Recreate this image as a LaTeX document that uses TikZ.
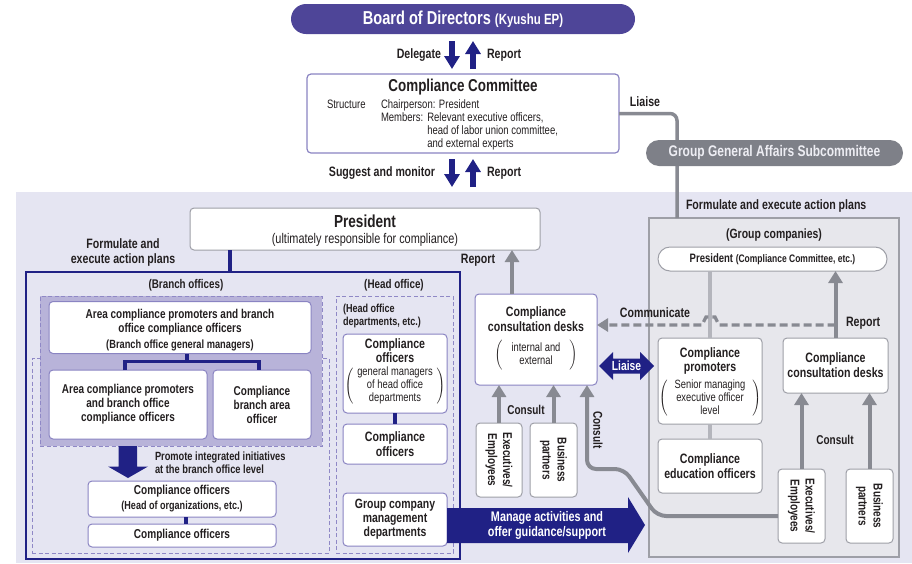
\documentclass[tikz,border=0pt]{standalone}
\usepackage{fontspec}
\setmainfont[FakeStretch=0.78]{Liberation Sans}
\usetikzlibrary{arrows.meta}

\definecolor{navy}{RGB}{32,33,133}
\definecolor{boardpurple}{RGB}{78,69,152}
\definecolor{boxline}{RGB}{138,132,194}
\definecolor{lavender}{RGB}{229,229,242}
\definecolor{branchfill}{RGB}{184,179,217}
\definecolor{dashline}{RGB}{143,136,198}
\definecolor{linegray}{RGB}{136,138,146}
\definecolor{panelgray}{RGB}{231,231,236}
\definecolor{panelline}{RGB}{158,159,167}
\definecolor{pillgray}{RGB}{126,128,136}
\definecolor{pilltext}{RGB}{237,237,243}
\definecolor{softgray}{RGB}{180,181,188}
\definecolor{ink}{RGB}{35,31,32}

\newcommand\fs[2]{\fontsize{#1}{#2}\selectfont}
% #1: gap inside the parentheses, #2: half height of the parentheses, #3: lines
\newcommand\parenblock[3]{$\left(\vrule height \dimexpr#2+3pt\relax depth \dimexpr#2-3pt\relax width 0pt
  \hspace{#1}\begin{tabular}{@{}c@{}}#3\end{tabular}\hspace{#1}\right)$}

\tikzset{
  card/.style={draw=boxline, fill=white, line width=1pt, rounded corners=4pt, align=center},
  graycard/.style={card, draw=panelline},
  dashbox/.style={draw=dashline, line width=0.9pt, dash pattern=on 4pt off 2.5pt},
  navyline/.style={draw=navy, line width=3.5pt},
  grayline/.style={draw=linegray, line width=3.5pt},
  softline/.style={draw=softgray, line width=3.5pt},
  grayarrow/.style={draw=linegray, line width=4pt, -{Triangle[width=14pt,length=12pt]}},
  navyarrow/.style={draw=navy, line width=5.5pt, -{Triangle[width=15pt,length=13pt]}},
  lbl/.style={font=\bfseries\fs{13.6}{15}},
  boxbold/.style={font=\bfseries\fs{13.6}{15}},
  titleline/.style={font=\bfseries\fs{13.6}{15}, anchor=base},
  parennote/.style={font=\mdseries\fs{12}{13}},
}

\begin{document}
\begin{tikzpicture}[x=1pt,y=-1pt,
  every node/.style={text=ink, inner sep=0pt, outer sep=0pt}]
\useasboundingbox (0,0) rectangle (912,563);

% shaded area holding the company-wide structure
\fill[lavender] (16,192) rectangle (912,563);

% ---------- board and committee ----------
\node[fill=boardpurple, rounded corners=15pt, minimum width=344pt, minimum height=30pt,
      text=white, font=\bfseries\fs{18.7}{20}] (board) at (463,19)
      {Board of Directors {\fs{14.7}{16}(Kyushu EP)}};

\node[card, line width=1.2pt, minimum width=312pt, minimum height=79pt] (cc) at (463,113.5) {};
\node[font=\bfseries\fs{17.2}{19}] (cctitle) at (463,87) {Compliance Committee};
\node[font=\fs{12.2}{13}, anchor=base west] (ccstruct) at (327,108) {Structure};
\node[font=\fs{12.2}{13}, anchor=north west] (ccmembers) at (381,98.9)
  {\begin{tabular}{@{}l@{\hspace{4pt}}l@{}}\multicolumn{2}{@{}l@{}}{Chairperson: President}\\
   Members: & Relevant executive officers,\\
            & head of labor union committee,\\
            & and external experts\end{tabular}};

\draw[navyarrow, shorten <=7pt, shorten >=5pt] ([xshift=-11pt]board.south) -- ([xshift=-11pt]cc.north);
\draw[navyarrow, shorten <=5pt, shorten >=7pt] ([xshift=10pt]cc.north) -- ([xshift=10pt]board.south);
\node[lbl, anchor=east] (ldelegate) at (441,55) {Delegate};
\node[lbl, anchor=west] (lreport1) at (487,55) {Report};

\coordinate (sugdown) at (452,187);
\coordinate (repup) at (473,187);
\draw[navyarrow, shorten <=6pt] ([xshift=-11pt]cc.south) -- (sugdown);
\draw[navyarrow, shorten >=6pt] (repup) -- ([xshift=10pt]cc.south);
\node[lbl, anchor=east] (lsuggest) at (435,173) {Suggest and monitor};
\node[lbl, anchor=west] (lreport2) at (487,173) {Report};

% ---------- group companies panel ----------
\node[draw=panelline, fill=panelgray, line width=1.1pt, minimum width=250pt, minimum height=339pt] (panel) at (774,387.5) {};
\draw[grayline, rounded corners=7pt] (cc.east) -- (677,113.5) -- (panel.north -| 677,0);
\node[lbl, anchor=base] (lliaise1) at (645,106) {Liaise};
\node[fill=pillgray, rounded corners=13pt, minimum width=257pt, minimum height=26pt,
      text=pilltext, font=\bfseries\fs{15.4}{17}] (ggas) at (774.5,153) {Group General Affairs Subcommittee};
\node[lbl, anchor=west] (lformright) at (686,206) {Formulate and execute action plans};
\node[font=\bfseries\fs{13.4}{15}] (lgroup) at (774,235) {(Group companies)};

\node[graycard, rounded corners=12pt, minimum width=229pt, minimum height=24pt, font=\bfseries\fs{12.2}{14}] (gpres) at (772.5,259)
  {President {\fs{10.9}{12}(Compliance Committee, etc.)}};
\node[graycard, minimum width=104pt, minimum height=86pt] (gprom) at (710,381) {};
\node[titleline] (gpromt1) at (710,357.5) {Compliance};
\node[titleline] (gpromt2) at (710,371.5) {promoters};
\node[parennote] (gpromp) at (710,398.5) {\parenblock{7pt}{18pt}{Senior managing\\executive officer\\level}};
\node[graycard, minimum width=104pt, minimum height=54pt, boxbold] (gedu) at (710,466)
  {Compliance\\education officers};
\node[graycard, minimum width=105pt, minimum height=55pt, boxbold] (gdesk) at (835.5,365.5)
  {Compliance\\consultation desks};
\node[graycard, minimum width=47pt, minimum height=74pt] (gexec) at (801.5,506) {};
\node[rotate=-90, align=center, font=\bfseries\fs{12.8}{15}] (gexect) at (gexec) {Executives/\\Employees};
\node[graycard, minimum width=47pt, minimum height=74pt] (gbp) at (869.5,506) {};
\node[rotate=-90, align=center, font=\bfseries\fs{12.8}{15}] (gbpt) at (gbp) {Business\\partners};

\draw[softline] (gprom.north |- gpres.south) -- (gprom.north);
\draw[softline] (gprom.south) -- (gedu.north);
\draw[grayarrow] (gdesk.north) -- (gdesk.north |- gpres.south);
\node[lbl, anchor=west] (lreport4) at (846,323) {Report};
\draw[grayarrow] (gexec.north) -- (gexec.north |- gdesk.south);
\draw[grayarrow] (gbp.north) -- (gbp.north |- gdesk.south);
\node[font=\bfseries\fs{12.8}{14}] (lconsult3) at (835,440) {Consult};

% ---------- president and branch / head office ----------
\node[card, draw=panelline, minimum width=350pt, minimum height=42pt, font=\fs{14}{16}] (pres) at (365,229)
  {{\bfseries\fs{17.4}{19}\rule{0pt}{15pt}President}\\(ultimately responsible for compliance)};
\node[draw=navy, line width=1.6pt, minimum width=434pt, minimum height=287pt] (frame) at (243,415.5) {};
\coordinate (pstem) at ([xshift=-135pt]pres.south);
\draw[navyline] (pstem) -- (pstem |- frame.north);
\node[lbl, align=center] (lformleft) at (123,252) {Formulate and\\execute action plans};

\node[font=\bfseries\fs{12.6}{14}] (lbranch) at (186,285) {(Branch offices)};
\node[font=\bfseries\fs{12.6}{14}] (lhead) at (394,285) {(Head office)};

\node[dashbox, minimum width=297pt, minimum height=195pt] (promarea) at (180.5,455.5) {};
\node[dashbox, fill=branchfill, minimum width=282pt, minimum height=150pt] (branch) at (181,371) {};
\node[dashbox, minimum width=117pt, minimum height=257pt] (headbox) at (394.5,424.5) {};

\node[card, minimum width=262pt, minimum height=52pt, font=\bfseries\fs{12.8}{14}] (acpt) at (180,327.5)
  {\rule{0pt}{15pt}Area compliance promoters and branch\\office compliance officers\\[2pt]{\fs{11.9}{13}(Branch office general managers)}};
\node[card, minimum width=158pt, minimum height=69pt, font=\bfseries\fs{12.8}{14}] (acpl) at (128,404.5)
  {Area compliance promoters\\and branch office\\compliance officers};
\node[card, minimum width=98pt, minimum height=69pt, font=\bfseries\fs{12.8}{14}] (cba) at (262,404.5)
  {Compliance\\branch area\\officer};
\draw[navyline] (acpl.north -| 125,0) -- (125,361.5) -- (259,361.5) -- (cba.north -| 259,0);
\draw[navyline] (acpt.south -| 187,0) -- (187,361.5);

\fill[navy] (118.5,446) -- (137,446) -- (137,466.5) -- (148,466.5) -- (128,478) -- (108,466.5) -- (118.5,466.5) -- cycle;
\node[font=\bfseries\fs{11.9}{13}, anchor=west, align=left] (lpromote) at (155,462.5)
  {Promote integrated initiatives\\at the branch office level};

\node[card, minimum width=188pt, minimum height=36pt, font=\bfseries\fs{12.9}{15}] (coh) at (182,499)
  {Compliance officers\\{\fs{11.6}{13}(Head of organizations, etc.)}};
\node[card, minimum width=188pt, minimum height=23pt, font=\bfseries\fs{12.9}{15}] (co) at (182,535.5)
  {Compliance officers};
\draw[navy, line width=3.5pt] (coh.south -| 186,0) -- (co.north -| 186,0);

\node[font=\bfseries\fs{11.6}{13}, anchor=west, align=left] (lheaddept) at (343,315.5)
  {(Head office\\departments, etc.)};
\node[card, minimum width=104pt, minimum height=79pt] (hco1) at (395,373.5) {};
\node[titleline] (hco1t1) at (395,348.5) {Compliance};
\node[titleline] (hco1t2) at (395,362.5) {officers};
\node[parennote] (hco1p) at (395,386) {\parenblock{4pt}{19.5pt}{general managers\\of head office\\departments}};
\node[card, minimum width=104pt, minimum height=40pt, boxbold] (hco2) at (395,444)
  {Compliance\\officers};
\node[card, minimum width=104pt, minimum height=53pt, font=\bfseries\fs{13.4}{14}] (gcm) at (395,519.5)
  {Group company\\management\\departments};
\draw[navyline] (hco1.south) -- (hco2.north);

% ---------- consultation desks ----------
\node[card, minimum width=122pt, minimum height=91pt] (desk) at (536,339.5) {};
\node[titleline] (deskt1) at (536,316.5) {Compliance};
\node[titleline] (deskt2) at (536,331.5) {consultation desks};
\node[parennote] (deskp) at (536,355) {\parenblock{9pt}{14pt}{internal and\\external}};
\draw[grayarrow] ([xshift=-24pt]desk.north) -- ++(0,-44);
\node[lbl] (lreport3) at (478,260) {Report};

\node[graycard, minimum width=46pt, minimum height=74pt] (exec) at (499,460) {};
\node[rotate=-90, align=center, font=\bfseries\fs{12.8}{15}] (exect) at (exec) {Executives/\\Employees};
\node[graycard, minimum width=47pt, minimum height=74pt] (bp) at (553.5,460) {};
\node[rotate=-90, align=center, font=\bfseries\fs{12.8}{15}] (bpt) at (bp) {Business\\partners};
\draw[grayarrow] (exec.north) -- (exec.north |- desk.south);
\draw[grayarrow] (bp.north) -- (bp.north |- desk.south);
\node[font=\bfseries\fs{12.8}{14}] (lconsult1) at (526,410) {Consult};

\draw[grayarrow, rounded corners=9pt] (gexec.west |- 0,516) -- (657,516) -- (624,469) -- (587,469) -- (desk.south -| 587,0);
\node[rotate=-90, font=\bfseries\fs{12.8}{14}] (lconsult2) at (598,430) {Consult};

% communication from the group desks
\coordinate (commstart) at (835.5,325);
\draw[linegray, line width=3.2pt, dash pattern=on 8pt off 4pt, -{Triangle[width=13pt,length=11pt]}]
  (commstart) -- (719,325) -- (715,317) -- (706,317) -- (702,325) -- (desk.east |- commstart);
\node[lbl] (lcomm) at (655,313) {Communicate};

% liaison between the desks and the group promoters
\fill[navy] (599,366) -- (613,352) -- (613,358.5) -- (640,358.5) -- (640,352) -- (654,366)
  -- (640,380) -- (640,373.5) -- (613,373.5) -- (613,380) -- cycle;
\node[text=white, font=\bfseries\fs{13.2}{14}] (lliaise2) at (626.5,366) {Liaise};

% management of the group companies
\fill[navy] (gcm.east |- 0,508) -- (628,508) -- (628,497) -- (645,525) -- (628,553) -- (628,543)
  -- (gcm.east |- 0,543) -- cycle;
\node[text=white, align=center, font=\bfseries\fs{13.9}{15}] (lmanage) at (547,525.5)
  {Manage activities and\\offer guidance/support};
\end{tikzpicture}
\end{document}
